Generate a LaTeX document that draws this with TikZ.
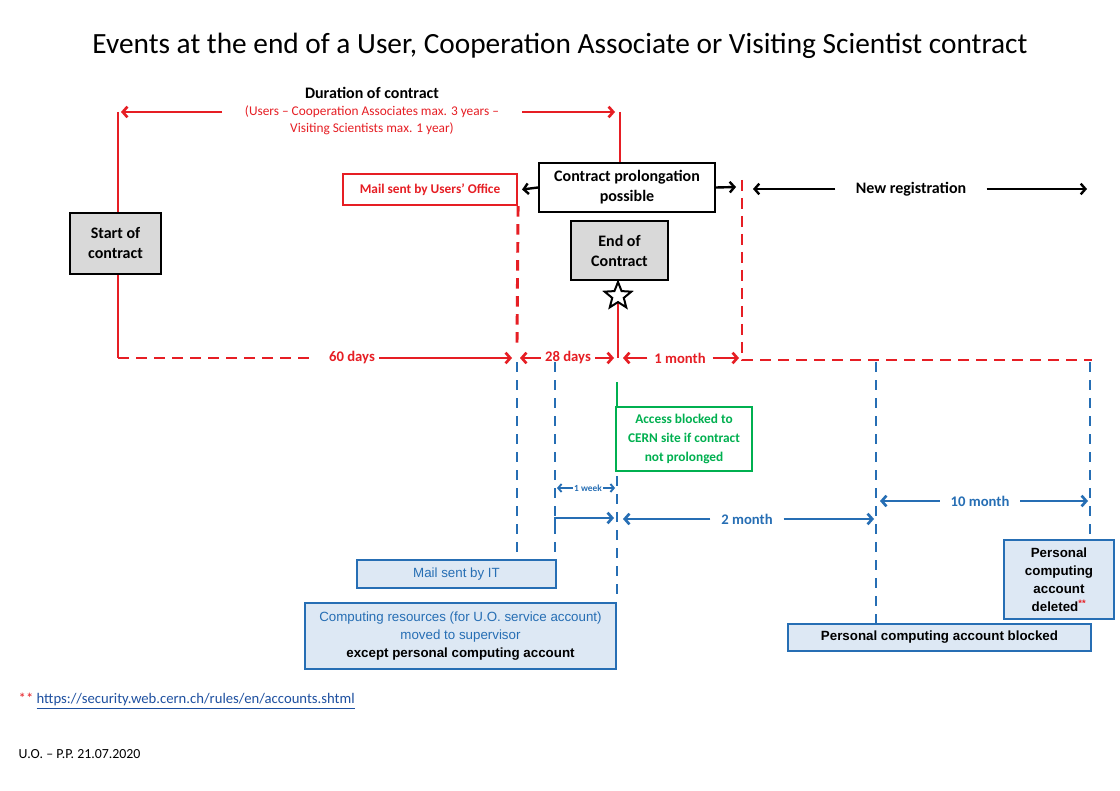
\documentclass[tikz,border=0pt]{standalone}
\usepackage{fontspec}
\setmainfont{Carlito}
\newfontfamily\arialf{Liberation Sans}
\usetikzlibrary{arrows.meta,shapes.geometric}
\definecolor{cred}{RGB}{230,30,36}
\definecolor{cblue}{RGB}{38,110,180}
\definecolor{cgreen}{RGB}{0,176,80}
\definecolor{cfill}{RGB}{221,232,244}
\definecolor{cgrey}{RGB}{217,217,217}
\definecolor{clink}{RGB}{30,80,160}
\tikzset{
  redline/.style={draw=cred,line width=2.2pt},
  reddash/.style={redline,dash pattern=on 8pt off 5.5pt},
  bluedash/.style={draw=cblue,line width=1.7pt,dash pattern=on 7.5pt off 6pt},
  barb/.style={-{Straight Barb[length=3.5pt,width=8pt]}},
  rarrow/.style={draw=cred,line width=2pt,barb},
  barrow/.style={draw=cblue,line width=2pt,barb},
  karrow/.style={draw=black,line width=1.8pt,barb},
  greybox/.style={draw=black,line width=1.6pt,fill=cgrey,align=center,inner sep=0pt,
    font=\fontsize{12}{15}\selectfont\bfseries},
  whitebox/.style={draw=black,line width=1.6pt,fill=white,align=center,inner sep=0pt,
    font=\fontsize{12}{15}\selectfont\bfseries},
  bluebox/.style={draw=cblue,line width=1.6pt,fill=cfill,align=center,inner sep=0pt},
  rlabel/.style={text=cred,font=\fontsize{11}{12}\selectfont\bfseries,inner xsep=3pt},
  blabel/.style={text=cblue,font=\fontsize{11}{12}\selectfont\bfseries,inner xsep=8pt},
}
\begin{document}
\begin{tikzpicture}[x=0.75pt,y=-0.75pt]
\useasboundingbox[fill=white] (0,0) rectangle (1120,791);

% title
\node (title) at (560,46) {\fontsize{22}{26}\selectfont Events at the end of a User, Cooperation Associate or Visiting Scientist contract};

% duration
\node (dur) at (372,93) {\fontsize{12}{14}\selectfont\bfseries Duration of contract};
\node (durs) [text=cred,align=center,font=\fontsize{10}{12.5}\selectfont] at (372,120)
  {(Users -- Cooperation Associates max. 3 years --\\Visiting Scientists max. 1 year)};
\coordinate (dLh) at (121,112);
\coordinate (dLt) at (222,112);
\coordinate (dRt) at (522,112);
\coordinate (dRh) at (615,112);
\draw[rarrow] (dLt) -- (dLh);
\draw[rarrow] (dRt) -- (dRh);

% boxes
\node (start) [greybox,minimum width=68.25pt,minimum height=45.75pt] at (115.5,243.5) {Start of\\contract};
\node (prolong) [whitebox,minimum width=132pt,minimum height=36.75pt] at (627,187.5) {Contract prolongation\\possible};
\node (endc) [greybox,minimum width=72.75pt,minimum height=44.25pt] at (619.5,250.5) {End of\\Contract};
\node (mailuo) [draw=cred,line width=1.6pt,fill=white,minimum width=130.5pt,minimum height=23.25pt,inner sep=0pt,
  text=cred,font=\fontsize{10}{11}\selectfont\bfseries] at (430,189.5) {Mail sent by Users’ Office};

% red verticals
\coordinate (sTop) at (118,112);
\coordinate (sBot) at (118,358);
\draw[redline] (sTop) -- (start.north -| sTop);
\draw[redline] (start.south -| sBot) -- (sBot);
\coordinate (eTop) at (620,112);
\coordinate (eBot) at (618,358);
\draw[redline] (eTop) -- (prolong.north -| eTop);
\draw[redline] (endc.south -| eBot) -- (eBot);
\node (star) [star,star points=5,star point ratio=2.3,draw=black,fill=white,line width=1.5pt,
  minimum size=21pt,inner sep=0pt] at (618,296) {};
\coordinate (m1) at (517,343);
\draw[reddash] (mailuo.south east) -- (m1);
\coordinate (nTop) at (742,180);
\coordinate (nCorner) at (742,360);
\coordinate (nEnd) at (1092,360);
\draw[reddash] (nTop) -- (nCorner) -- (nEnd);

% prolongation arrows
\coordinate (pR) at (736,187);
\draw[karrow] (prolong.west) -- ([xshift=3pt]mailuo.east);
\draw[karrow] (prolong.east) -- (pR);

% new registration
\node (nr) [font=\fontsize{12}{14}\selectfont\bfseries,inner xsep=15pt] at (911,189) {New registration};
\coordinate (nrL) at (753,189);
\coordinate (nrR) at (1087,189);
\draw[karrow] (nr.west) -- (nrL);
\draw[karrow] (nr.east) -- (nrR);

% red timeline
\coordinate (d60a) at (312,358);
\draw[reddash] (sBot) -- (d60a);
\node (d60) [rlabel] at (352,358) {60 days};
\coordinate (d60h) at (512,358);
\draw[rarrow] (d60.east) -- (d60h);
\node (d28) [rlabel] at (568,358) {28 days};
\coordinate (d28l) at (520,358);
\coordinate (d28r) at (614,358);
\draw[rarrow] (d28.west) -- (d28l);
\draw[rarrow] (d28.east) -- (d28r);
\node (d1m) [rlabel,inner xsep=5pt] at (680,358) {1 month};
\coordinate (d1l) at (623,358);
\coordinate (d1r) at (739,358);
\draw[rarrow] (d1m.west) -- (d1l);
\draw[rarrow] (d1m.east) -- (d1r);

% green
\node (green) [draw=cgreen,line width=1.3pt,fill=white,minimum width=102pt,minimum height=48pt,inner sep=0pt,
  align=center,text=cgreen,font=\fontsize{10}{14}\selectfont\bfseries] at (684,439)
  {Access blocked to\\CERN site if contract\\not prolonged};
\coordinate (gTop) at (617,382);
\draw[cgreen,line width=1.6pt] (gTop) -- (gTop |- green.north);

% blue boxes
\node (mailit) [bluebox,minimum width=149.25pt,minimum height=21pt,text=cblue,font=\arialf\fontsize{10}{11}\selectfont] at (456.5,574) {Mail sent by IT};
\node (comp) [bluebox,minimum width=233.25pt,minimum height=49.5pt,font=\arialf\fontsize{10}{13.5}\selectfont] at (460.5,636)
  {\textcolor{cblue}{Computing resources (for U.O. service account)}\\\textcolor{cblue}{moved to supervisor}\\\bfseries except personal computing account};
\node (blocked) [bluebox,minimum width=227.25pt,minimum height=20.25pt,font=\arialf\fontsize{10}{11}\selectfont\bfseries] at (939.5,637.5) {Personal computing account blocked};
\node (deleted) [bluebox,minimum width=82.5pt,minimum height=59.25pt,font=\arialf\fontsize{10}{13.5}\selectfont\bfseries] at (1059,579.5)
  {Personal\\computing\\account\\deleted\textcolor{cred}{\textsuperscript{**}}};

% blue dashed verticals
\coordinate (b1) at (517,362);
\coordinate (b2) at (555,362);
\coordinate (b3) at (617,476);
\coordinate (b4) at (876,362);
\coordinate (b5) at (1090,362);
\draw[bluedash] (b1) -- (mailit.north -| b1);
\draw[bluedash] (b2) -- (mailit.north -| b2);
\draw[bluedash] (b3) -- (comp.north -| b3);
\draw[bluedash] (b4) -- (blocked.north -| b4);
\draw[bluedash] (b5) -- (deleted.north -| b5);

% blue arrows
\node (wk) [text=cblue,font=\fontsize{7}{8}\selectfont\bfseries,inner xsep=1pt] at (588,488) {1 week};
\coordinate (wkl) at (557,488);
\coordinate (wkr) at (615,488);
\draw[draw=cblue,line width=1.4pt,-{Straight Barb[length=2.5pt,width=6pt]}] (wk.west) -- (wkl);
\draw[draw=cblue,line width=1.4pt,-{Straight Barb[length=2.5pt,width=6pt]}] (wk.east) -- (wkr);
\coordinate (w2a) at (555,524);
\coordinate (w2b) at (555,518);
\coordinate (w2c) at (614,518);
\draw[barrow] (w2a) -- (w2b) -- (w2c);
\node (m2) [blabel] at (747,519) {2 month};
\coordinate (m2l) at (623,519);
\coordinate (m2r) at (874,519);
\draw[barrow] (m2.west) -- (m2l);
\draw[barrow] (m2.east) -- (m2r);
\node (m10) [blabel] at (980,501) {10 month};
\coordinate (m10l) at (880,501);
\coordinate (m10r) at (1088,501);
\draw[barrow] (m10.west) -- (m10l);
\draw[barrow] (m10.east) -- (m10r);

% footer
\node (fn) [anchor=west,font=\fontsize{11}{13}\selectfont] at (14,701)
  {\textcolor{cred}{**} \textcolor{clink}{\underline{https://security.web.cern.ch/rules/en/accounts.shtml}}};
\node (date) [anchor=west,font=\fontsize{10.4}{12}\selectfont] at (14,754) {U.O. -- P.P. 21.07.2020};
\end{tikzpicture}
\end{document}
